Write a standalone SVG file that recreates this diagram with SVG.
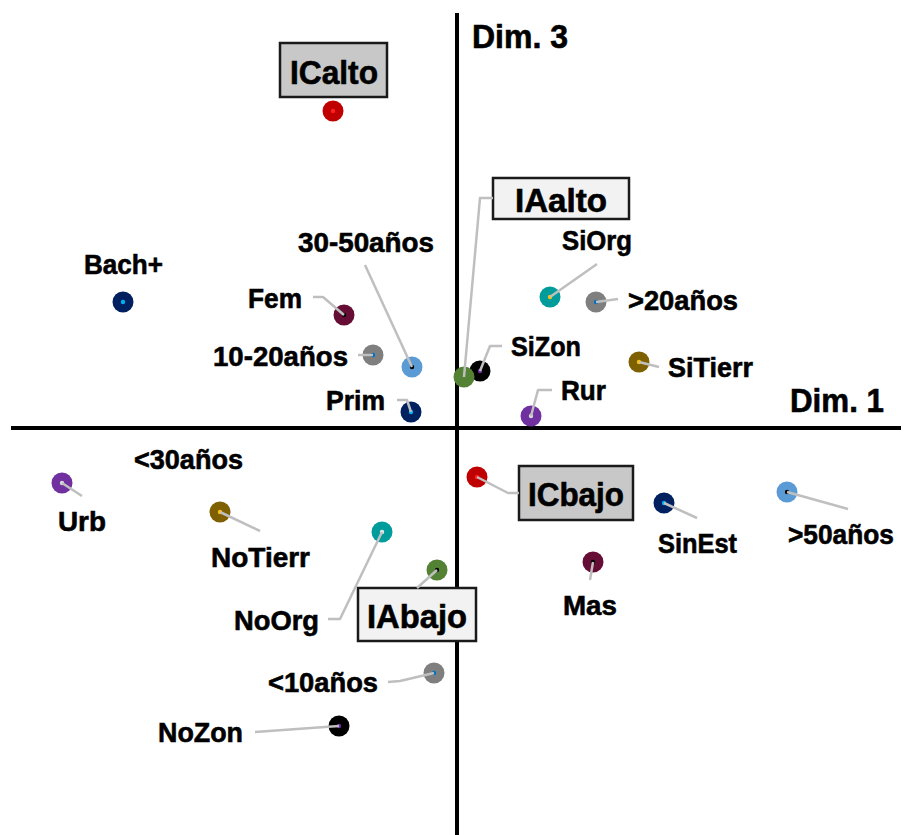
<svg xmlns="http://www.w3.org/2000/svg" width="905" height="835" viewBox="0 0 905 835">
<style>
text{font-family:"Liberation Sans",Arial,sans-serif;font-weight:bold;fill:#000;stroke:#000;stroke-width:0.6;}
.lb{font-size:28.5px;}
.bx{font-size:32.5px;}
.ax{stroke:#000;stroke-width:4;fill:none;}
.ld{stroke:#BFBFBF;stroke-width:2.5;fill:none;stroke-linejoin:round;}
.dk{fill:#C8C8C8;stroke:#1A1A1A;stroke-width:2.5;}
.lt{fill:#F2F2F2;stroke:#1A1A1A;stroke-width:2.5;}
.red{fill:#C00000}.navy{fill:#002060}.mar{fill:#650D34}.gry{fill:#7F7F7F}.lbl{fill:#5B9BD5}
.teal{fill:#009C9C}.brn{fill:#7F6000}.pur{fill:#7030A0}.blk{fill:#000}.grn{fill:#548235}
</style>
<g id="axes">
<line class="ax" x1="11" y1="428" x2="901" y2="428"/>
<line class="ax" x1="457" y1="13" x2="457" y2="835"/>
<text class="bx" x="472" y="48" textLength="96" lengthAdjust="spacingAndGlyphs">Dim. 3</text>
<text class="bx" x="790" y="412" textLength="94" lengthAdjust="spacingAndGlyphs">Dim. 1</text>
</g>
<g id="ICalto">
<rect class="dk" x="280" y="43" width="107" height="54"/>
<text class="bx" x="290" y="84" textLength="88" lengthAdjust="spacingAndGlyphs">ICalto</text>
<circle class="red" cx="333" cy="111" r="10.5"/><circle cx="333" cy="111" r="2.2" fill="#FF2020"/>
</g>
<g id="Bach">
<circle class="navy" cx="123" cy="302" r="10.5"/><circle cx="123" cy="302" r="2.2" fill="#00B0F0"/>
<text class="lb" x="84" y="274" textLength="79" lengthAdjust="spacingAndGlyphs">Bach+</text>
</g>
<g id="Fem">
<circle class="mar" cx="344" cy="315" r="10.5"/><circle cx="344" cy="315" r="2.2" fill="#000"/>
<text class="lb" x="248" y="308" textLength="54" lengthAdjust="spacingAndGlyphs">Fem</text>
</g>
<g id="a10-20">
<circle class="gry" cx="373" cy="355" r="10.5"/><circle cx="373" cy="355" r="2.2" fill="#0070C0"/>
<text class="lb" x="213" y="366" textLength="135" lengthAdjust="spacingAndGlyphs">10-20años</text>
</g>
<g id="a30-50">
<circle class="lbl" cx="412" cy="367" r="10.5"/><circle cx="412" cy="367" r="2.2" fill="#000"/>
<text class="lb" x="298" y="252" textLength="136" lengthAdjust="spacingAndGlyphs">30-50años</text>
</g>
<g id="Prim">
<circle class="navy" cx="411" cy="412" r="10.5"/><circle cx="411" cy="412" r="2.2" fill="#00B0F0"/>
<text class="lb" x="326" y="410" textLength="59" lengthAdjust="spacingAndGlyphs">Prim</text>
</g>
<g id="SiZon">
<circle class="blk" cx="480" cy="371" r="10.5"/><circle cx="480" cy="371" r="2.2" fill="#7030A0"/>
<text class="lb" x="511" y="356" textLength="70" lengthAdjust="spacingAndGlyphs">SiZon</text>
</g>
<g id="IAalto">
<rect class="lt" x="493" y="178" width="136" height="41"/>
<text class="bx" x="515" y="212" textLength="92" lengthAdjust="spacingAndGlyphs">IAalto</text>
<circle class="grn" cx="464" cy="377" r="10.5"/>
</g>
<g id="SiOrg">
<circle class="teal" cx="550" cy="297" r="10.5"/><circle cx="550" cy="297" r="2.2" fill="#FFC000"/>
<text class="lb" x="562" y="250" textLength="70" lengthAdjust="spacingAndGlyphs">SiOrg</text>
</g>
<g id="gt20">
<circle class="gry" cx="596" cy="302" r="10.5"/><circle cx="596" cy="302" r="2.2" fill="#0070C0"/>
<text class="lb" x="628" y="310" textLength="110" lengthAdjust="spacingAndGlyphs">&gt;20años</text>
</g>
<g id="SiTierr">
<circle class="brn" cx="639" cy="362" r="10.5"/><circle cx="639" cy="362" r="2.2" fill="#FFC000"/>
<text class="lb" x="668" y="377" textLength="85" lengthAdjust="spacingAndGlyphs">SiTierr</text>
</g>
<g id="Rur">
<circle class="pur" cx="531" cy="416" r="10.5"/><circle cx="531" cy="416" r="2.2" fill="#D9D9D9"/>
<text class="lb" x="561" y="400" textLength="45" lengthAdjust="spacingAndGlyphs">Rur</text>
</g>
<g id="lt30">
<text class="lb" x="134" y="469" textLength="109" lengthAdjust="spacingAndGlyphs">&lt;30años</text>
</g>
<g id="Urb">
<circle class="pur" cx="62" cy="483" r="10.5"/><circle cx="62" cy="483" r="2.2" fill="#D9D9D9"/>
<text class="lb" x="58" y="531" textLength="48" lengthAdjust="spacingAndGlyphs">Urb</text>
</g>
<g id="NoTierr">
<circle class="brn" cx="220" cy="512" r="10.5"/><circle cx="220" cy="512" r="2.2" fill="#FFC000"/>
<text class="lb" x="211" y="567" textLength="99" lengthAdjust="spacingAndGlyphs">NoTierr</text>
</g>
<g id="NoOrg">
<circle class="teal" cx="382" cy="532" r="10.5"/><circle cx="382" cy="532" r="2.2" fill="#E8E8E8"/>
<text class="lb" x="234" y="630" textLength="85" lengthAdjust="spacingAndGlyphs">NoOrg</text>
</g>
<g id="IAbajo">
<circle class="grn" cx="437" cy="570" r="10.5"/><circle cx="437" cy="570" r="2.2" fill="#000"/>
<rect class="lt" x="358" y="588" width="118" height="53"/>
<text class="bx" x="367" y="628" textLength="100" lengthAdjust="spacingAndGlyphs">IAbajo</text>
</g>
<g id="ICbajo">
<circle class="red" cx="477" cy="477" r="10.5"/><circle cx="477" cy="477" r="2.2" fill="#FF2020"/>
<rect class="dk" x="519" y="466" width="114" height="54"/>
<text class="bx" x="528" y="506" textLength="96" lengthAdjust="spacingAndGlyphs">ICbajo</text>
</g>
<g id="SinEst">
<circle class="navy" cx="664" cy="503" r="10.5"/><circle cx="664" cy="503" r="2.2" fill="#00B0F0"/>
<text class="lb" x="658" y="553" textLength="79" lengthAdjust="spacingAndGlyphs">SinEst</text>
</g>
<g id="gt50">
<circle class="lbl" cx="787" cy="492" r="10.5"/><circle cx="787" cy="492" r="2.2" fill="#000"/>
<text class="lb" x="788" y="544" textLength="106" lengthAdjust="spacingAndGlyphs">&gt;50años</text>
</g>
<g id="Mas">
<circle class="mar" cx="593" cy="562" r="10.5"/><circle cx="593" cy="562" r="2.2" fill="#000"/>
<text class="lb" x="563" y="615" textLength="54" lengthAdjust="spacingAndGlyphs">Mas</text>
</g>
<g id="lt10">
<circle class="gry" cx="434" cy="673" r="10.5"/><circle cx="434" cy="673" r="2.2" fill="#0070C0"/>
<text class="lb" x="268" y="692" textLength="110" lengthAdjust="spacingAndGlyphs">&lt;10años</text>
</g>
<g id="NoZon">
<circle class="blk" cx="339" cy="726" r="10.5"/><circle cx="339" cy="726" r="2.2" fill="#7030A0"/>
<text class="lb" x="158" y="742" textLength="85" lengthAdjust="spacingAndGlyphs">NoZon</text>
</g>
<g id="connectors">
<polyline class="ld" points="313,297 323,297 344,315"/>
<polyline class="ld" points="358,355 373,355"/>
<polyline class="ld" points="365,265 412,367"/>
<polyline class="ld" points="397,400 407,400 411,412"/>
<polyline class="ld" points="502,346 490,346 480,371"/>
<polyline class="ld" points="493,198 480,198 464,377"/>
<polyline class="ld" points="597,264 550,297"/>
<polyline class="ld" points="618,299 596,302"/>
<polyline class="ld" points="659,367 639,362"/>
<polyline class="ld" points="552,390 538,390 531,416"/>
<polyline class="ld" points="82,496 62,483"/>
<polyline class="ld" points="260,531 220,512"/>
<polyline class="ld" points="328,619 340,619 382,532"/>
<polyline class="ld" points="417,588 437,570"/>
<polyline class="ld" points="519,493 508,493 477,477"/>
<polyline class="ld" points="697,518 664,503"/>
<polyline class="ld" points="848,509 787,492"/>
<polyline class="ld" points="590,580 593,562"/>
<polyline class="ld" points="388,682 400,681 434,673"/>
<polyline class="ld" points="255,732 339,726"/>
</g>
</svg>
